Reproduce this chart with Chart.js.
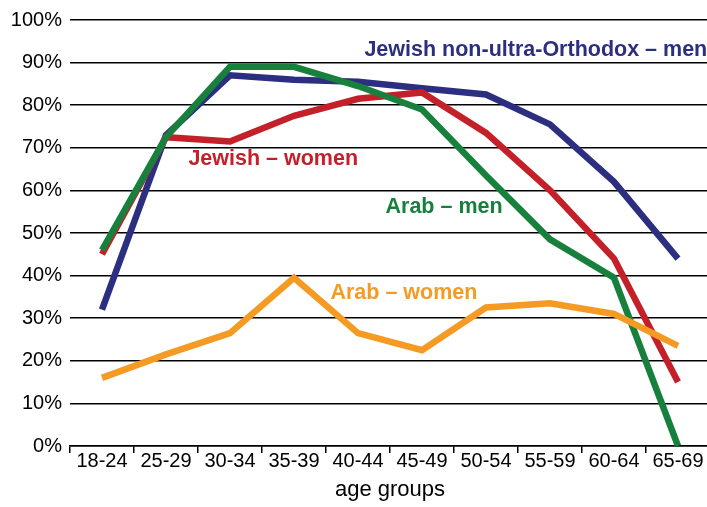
<!DOCTYPE html>
<html>
<head>
<meta charset="utf-8" />
<script src="https://cdn.jsdelivr.net/npm/chart.js@4"></script>
<style>
  html, body { margin: 0; padding: 0; background: #fff; overflow: hidden; }
</style>
</head>
<body>
<canvas id="chart" width="710" height="507"></canvas>
<script>
// age groups on the x axis
const ageGroups = ["18-24", "25-29", "30-34", "35-39", "40-44", "45-49", "50-54", "55-59", "60-64", "65-69"];

// employment rates, %
const jewishMen = [32, 73, 87, 86, 85.5, 84, 82.5, 75.5, 62, 44];
const jewishWomen = [45, 72.5, 71.5, 77.5, 81.5, 83, 73.5, 60, 44, 15];
const arabMen = [46, 72.5, 89, 89, 84.5, 79, 63.5, 48.5, 39.5, 0];
const arabWomen = [16, 21.5, 26.5, 39.5, 26.5, 22.5, 32.5, 33.5, 31, 23.5];

const yTicks = [0, 10, 20, 30, 40, 50, 60, 70, 80, 90, 100];

const COLORS = {
  jewishMen: "#2c2e7f",
  jewishWomen: "#c4202a",
  arabMen: "#17803c",
  arabWomen: "#f59a23",
};

// inline series names, anchored in data units (category index, value)
const seriesLabels = [
  { text: "Jewish non-ultra-Orthodox – men", color: COLORS.jewishMen, x: 4.1, y: 93 },
  { text: "Jewish – women", color: COLORS.jewishWomen, x: 1.35, y: 67.3 },
  { text: "Arab – men", color: COLORS.arabMen, x: 4.43, y: 56 },
  { text: "Arab – women", color: COLORS.arabWomen, x: 3.57, y: 36 },
];

const inlineLabels = {
  id: "inlineLabels",
  afterDatasetsDraw(chart) {
    const { ctx, scales } = chart;
    ctx.save();
    ctx.font = "bold 21.5px 'Liberation Sans', Arial, sans-serif";
    ctx.textAlign = "left";
    ctx.textBaseline = "middle";
    for (const l of seriesLabels) {
      ctx.fillStyle = l.color;
      ctx.fillText(l.text, scales.x.getPixelForValue(l.x), scales.y.getPixelForValue(l.y));
    }
    ctx.restore();
  },
};

function line(data, color) {
  return {
    data,
    borderColor: color,
    backgroundColor: color,
    borderWidth: 6.5,
    pointRadius: 0,
    tension: 0,
    fill: false,
    borderCapStyle: "butt",
    borderJoinStyle: "miter",
  };
}

new Chart(document.getElementById("chart"), {
  type: "line",
  data: {
    labels: ageGroups,
    datasets: [
      line(arabWomen, COLORS.arabWomen),
      line(arabMen, COLORS.arabMen),
      line(jewishWomen, COLORS.jewishWomen),
      line(jewishMen, COLORS.jewishMen),
    ],
  },
  options: {
    responsive: false,
    animation: false,
    layout: { padding: { top: 18, left: 0, right: 0, bottom: 0 } },
    plugins: {
      legend: { display: false },
      tooltip: { enabled: false },
    },
    scales: {
      x: {
        offset: true,
        afterFit(s) {
          s.height = 61;
        },
        grid: {
          offset: true,
          drawOnChartArea: false,
          drawTicks: true,
          tickLength: 7,
          color: "#000",
          lineWidth: 1.5,
        },
        border: { display: true, color: "#000", width: 1.5 },
        ticks: {
          color: "#000",
          padding: -4,
          maxRotation: 0,
          autoSkip: false,
          font: { family: "'Liberation Sans', Arial, sans-serif", size: 20 },
        },
        title: {
          display: true,
          text: "age groups",
          color: "#000",
          padding: { top: 0, bottom: 4 },
          font: { family: "'Liberation Sans', Arial, sans-serif", size: 22 },
        },
      },
      y: {
        min: 0,
        max: 100,
        afterFit(s) {
          s.width = 70;
        },
        afterBuildTicks(s) {
          s.ticks = yTicks.map((v) => ({ value: v }));
        },
        grid: {
          drawTicks: false,
          color: "#000",
          lineWidth: 1.5,
        },
        border: { display: false },
        ticks: {
          color: "#000",
          padding: 8,
          font: { family: "'Liberation Sans', Arial, sans-serif", size: 20 },
          callback(v) {
            return v + "%";
          },
        },
      },
    },
  },
  plugins: [inlineLabels],
});
</script>
</body>
</html>
